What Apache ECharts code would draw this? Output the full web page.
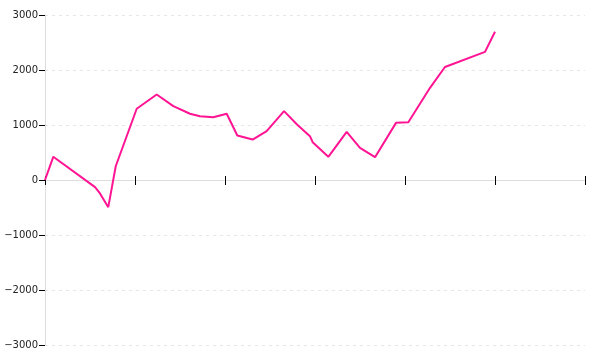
<!DOCTYPE html>
<html>
<head>
<meta charset="utf-8">
<script src="https://cdn.jsdelivr.net/npm/echarts@6/dist/echarts.min.js"></script>
<style>
html,body{margin:0;padding:0;background:#fff;}
#chart{width:600px;height:360px;}
</style>
</head>
<body>
<div id="chart"></div>
<script>
var xValues = [0, 0.092, 0.556, 0.611, 0.703, 0.786, 1.019, 1.241, 1.426, 1.611, 1.722, 1.870, 2.019, 2.137, 2.307, 2.463, 2.656, 2.803, 2.944, 2.974, 3.148, 3.352, 3.5, 3.667, 3.9, 4.037, 4.278, 4.444, 4.889, 5.0];
var yValues = [0, 422, -130, -245, -494, 250, 1295, 1555, 1342, 1204, 1160, 1142, 1204, 809, 736, 888, 1252, 1004, 797, 687, 421, 876, 585, 415, 1039, 1051, 1676, 2055, 2330, 2695];
var yTicks = [-3000, -2000, -1000, 0, 1000, 2000, 3000];

var points = xValues.map(function (x, i) { return [x, yValues[i]]; });

var chart = echarts.init(document.getElementById('chart'));
chart.setOption({
  animation: false,
  backgroundColor: '#ffffff',
  grid: { left: 45, right: 15, top: 15, bottom: 15, containLabel: false },
  xAxis: [
    {
      type: 'value', min: 0, max: 6, interval: 1, position: 'bottom', offset: -165,
      axisLabel: { show: false },
      splitLine: { show: false },
      axisLine: { show: true, onZero: false, lineStyle: { color: '#dddddd', width: 1 } },
      axisTick: { show: true, length: 5, lineStyle: { color: '#000', width: 1 } }
    },
    {
      type: 'value', min: 0, max: 6, interval: 1, position: 'top', offset: -165,
      axisLabel: { show: false },
      splitLine: { show: false },
      axisLine: { show: true, onZero: false, lineStyle: { color: '#dddddd', width: 1 } },
      axisTick: { show: true, length: 4, lineStyle: { color: '#000', width: 1 } }
    }
  ],
  yAxis: {
    type: 'value',
    min: yTicks[0], max: yTicks[yTicks.length - 1], interval: 1000,
    axisLine: { show: true, onZero: false, lineStyle: { color: '#dddddd', width: 1 } },
    axisTick: { show: true, length: 6, lineStyle: { color: '#000', width: 1 } },
    axisLabel: { color: '#222', fontFamily: 'DejaVu Sans', fontSize: 10, margin: 7,
      formatter: function (v) { return v < 0 ? '\u2212' + Math.abs(v) : String(v); } },
    splitLine: { show: true, lineStyle: { color: '#e6e6e6', width: 1, type: [3, 4] } }
  },
  series: [{
    type: 'line',
    xAxisIndex: 0,
    data: points,
    showSymbol: false,
    symbol: 'none',
    lineStyle: { color: '#ff1493', width: 2 },
    itemStyle: { color: '#ff1493' }
  }]
});
</script>
</body>
</html>
